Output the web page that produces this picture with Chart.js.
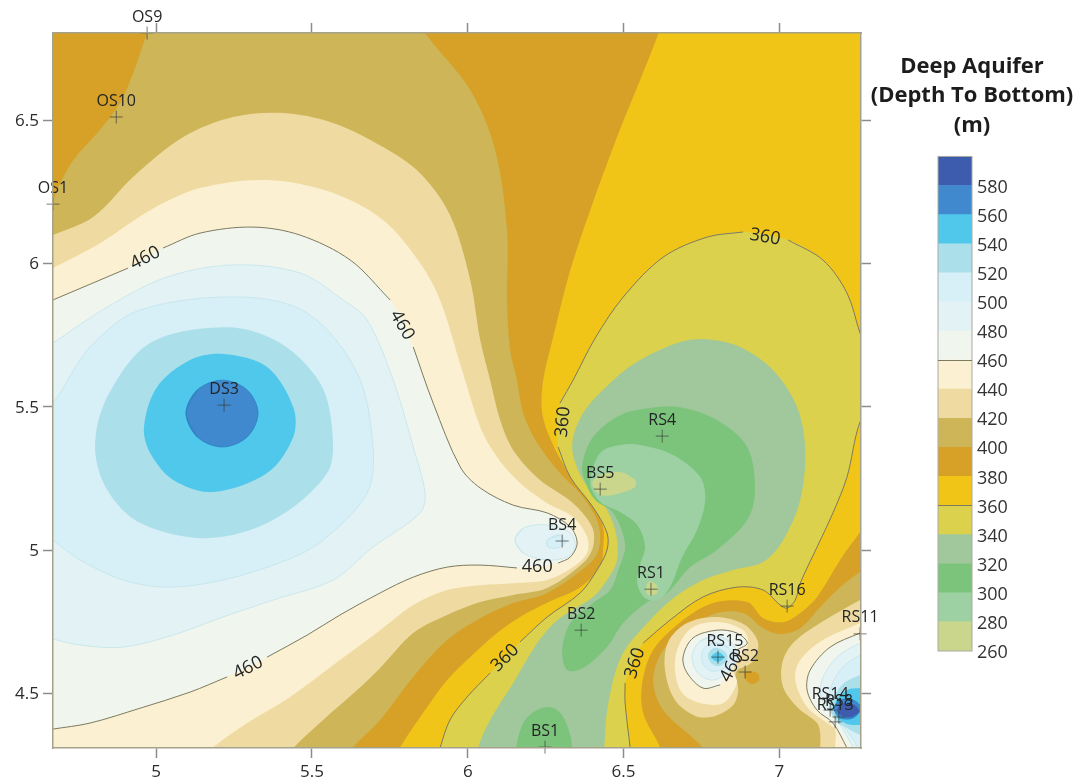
<!DOCTYPE html>
<html>
<head>
<meta charset="utf-8">
<title>Deep Aquifer</title>
<script src="https://cdn.jsdelivr.net/npm/chart.js@4"></script>
<style>
  html,body{margin:0;padding:0;background:#fff;}
  canvas{filter:blur(0.3px);}
  #mapa{position:absolute;left:0;top:0;}
  #barra{position:absolute;left:864px;top:0;}
</style>
</head>
<body>
<canvas id="mapa" width="1080" height="782"></canvas>
<canvas id="barra" width="216" height="690"></canvas>
<script>
// Colour bar levels and colours (one colour per 20 m band, from 260 up)
const levels = [260,280,300,320,340,360,380,400,420,440,460,480,500,520,540,560,580,600];
const bandColors = ["#c9d68b","#9dd1a3","#7cc47c","#a1c89c","#dbd14c","#f0c518","#d6a126","#cdb558","#efdba1","#fbf0d1","#f0f6ee","#e2f2f5","#d7eff6","#abdfea","#4fc8ec","#4189cf","#3d5cae"];

// Stations
const stationNames = ["OS9","OS10","OS1","DS3","RS4","BS5","BS4","RS1","BS2","BS1","RS15","RS2","RS16","RS11","RS14","RS8","RS13"];
const stationX = [4.971,4.872,4.669,5.218,6.624,6.425,6.303,6.588,6.364,6.248,6.803,6.890,7.025,7.259,7.163,7.191,7.179];
const stationY = [6.804,6.511,6.207,5.506,5.398,5.213,5.032,4.864,4.721,4.313,4.627,4.575,4.805,4.708,4.442,4.418,4.401];

// Contour labels on the map: text, x, y, angle
const labelTexts = ["460","460","460","460","460","360","360","360","360"];
const labelX = [4.965,5.789,6.223,5.295,6.848,6.954,6.306,6.120,6.537];
const labelY = [6.019,5.785,4.941,4.589,4.592,6.092,5.447,4.624,4.606];
const labelAngles = [-27,60,0,-27,-62,10,-85,-45,-72];

// 460 contour, split where the labels sit
const line460a = [[4.628,5.855],[4.669,5.873],[4.910,5.984]];
const line460b = [[5.022,6.054],[5.141,6.106],[5.311,6.127],[5.462,6.099],[5.623,6.012],[5.751,5.873]];
const line460c = [[5.825,5.709],[5.889,5.513],[5.976,5.290],[6.040,5.217],[6.146,5.157],[6.255,5.130],[6.329,5.081],[6.351,5.025],[6.329,4.976],[6.290,4.955]];
const line460d = [[6.158,4.938],[6.040,4.948],[5.934,4.941],[5.825,4.906],[5.719,4.851],[5.590,4.774],[5.485,4.704],[5.356,4.627]];
const line460e = [[5.228,4.558],[5.109,4.505],[4.949,4.449],[4.788,4.397],[4.669,4.376],[4.628,4.369]];
const line460rs15 = [[6.810,4.530],[6.755,4.519],[6.704,4.572],[6.691,4.627],[6.723,4.694],[6.800,4.721],[6.864,4.711],[6.897,4.676],[6.864,4.652]];
const line460br = [[7.307,4.732],[7.259,4.711],[7.163,4.662],[7.099,4.582],[7.089,4.512],[7.121,4.442],[7.172,4.397],[7.217,4.310],[7.243,4.251]];

// 360 contour, split where the labels sit
const line360a = [[5.895,4.251],[5.911,4.310],[5.943,4.408],[5.998,4.488],[6.072,4.572]];
const line360b = [[6.168,4.680],[6.255,4.767],[6.361,4.851],[6.415,4.931],[6.447,5.001],[6.447,5.060],[6.402,5.150],[6.329,5.255],[6.290,5.360]];
const line360c = [[6.296,5.513],[6.338,5.593],[6.409,5.740],[6.499,5.883],[6.627,6.022],[6.768,6.092],[6.884,6.110]];
const line360d = [[7.028,6.082],[7.140,6.012],[7.217,5.897],[7.259,5.757],[7.298,5.646]];
const line360e = [[7.323,5.559],[7.259,5.447],[7.217,5.255],[7.172,5.130],[7.121,5.011],[7.067,4.885],[7.051,4.826],[7.025,4.798],[7.002,4.809],[6.948,4.861],[6.864,4.871],[6.755,4.837],[6.649,4.756],[6.563,4.676]];
const line360f = [[6.505,4.537],[6.505,4.467],[6.521,4.313],[6.527,4.251]];

// Band edges, upper left part of the map
const orangeLeft = [[6.624,6.849],[6.611,6.800],[6.553,6.640],[6.479,6.441],[6.393,6.186],[6.329,5.977],[6.274,5.743],[6.242,5.593],[6.239,5.478],[6.271,5.374],[6.319,5.280],[6.393,5.175],[6.434,5.081],[6.434,5.001],[6.425,4.941],[6.361,4.871],[6.274,4.826],[6.178,4.774],[6.094,4.711],[6.008,4.627],[5.934,4.547],[5.879,4.467],[5.825,4.383],[5.783,4.313],[5.751,4.251]];
const oliveLeft = [[5.847,6.849],[5.863,6.804],[6.008,6.605],[6.088,6.396],[6.126,6.117],[6.126,5.873],[6.136,5.698],[6.158,5.593],[6.178,5.478],[6.223,5.374],[6.296,5.269],[6.370,5.185],[6.418,5.095],[6.422,5.011],[6.393,4.955],[6.255,4.851],[6.146,4.816],[6.040,4.763],[5.934,4.687],[5.825,4.558],[5.719,4.408],[5.629,4.310],[5.590,4.251],[4.400,4.100],[4.400,6.169],[4.628,6.169],[4.669,6.221],[4.686,6.267],[4.734,6.361],[4.811,6.455],[4.884,6.560],[4.926,6.664],[4.971,6.804],[4.987,6.849]];
const tanLeft = [[4.628,6.078],[4.669,6.099],[4.798,6.162],[4.926,6.302],[5.087,6.441],[5.247,6.511],[5.408,6.525],[5.568,6.490],[5.728,6.406],[5.847,6.315],[5.943,6.169],[6.008,5.942],[6.040,5.733],[6.072,5.593],[6.104,5.454],[6.146,5.349],[6.232,5.245],[6.338,5.164],[6.399,5.081],[6.402,5.011],[6.370,4.955],[6.255,4.868],[6.146,4.844],[6.040,4.819],[5.934,4.774],[5.825,4.711],[5.719,4.589],[5.645,4.512],[5.536,4.408],[5.440,4.310],[5.398,4.251]];
const creamLeft = [[4.628,5.960],[4.669,5.984],[4.820,6.071],[4.981,6.186],[5.141,6.263],[5.356,6.291],[5.568,6.246],[5.728,6.152],[5.847,6.002],[5.911,5.873],[5.982,5.628],[6.040,5.430],[6.094,5.325],[6.168,5.234],[6.255,5.164],[6.338,5.116],[6.383,5.046],[6.383,4.990],[6.338,4.941],[6.255,4.896],[6.146,4.885],[6.040,4.878],[5.934,4.861],[5.825,4.809],[5.719,4.721],[5.590,4.617],[5.430,4.488],[5.292,4.397],[5.180,4.310],[5.125,4.251]];

// Left mound, rings above the 460 contour
const pale480 = [[4.628,5.698],[4.669,5.723],[4.843,5.848],[5.035,5.953],[5.247,5.995],[5.462,5.967],[5.600,5.873],[5.677,5.803],[5.761,5.593],[5.825,5.360],[5.863,5.199],[5.847,5.130],[5.696,5.011],[5.568,4.896],[5.375,4.826],[5.215,4.767],[5.055,4.704],[4.894,4.662],[4.756,4.669],[4.669,4.690],[4.628,4.701]];
const pale500 = [[4.628,5.482],[4.669,5.513],[4.788,5.709],[4.949,5.838],[5.270,5.883],[5.485,5.827],[5.645,5.618],[5.696,5.360],[5.677,5.199],[5.536,5.035],[5.420,4.966],[5.215,4.896],[5.035,4.871],[4.894,4.896],[4.756,4.966],[4.669,5.035],[4.628,5.070]];
const ring520 = [[4.804,5.360],[4.843,5.534],[4.981,5.723],[5.228,5.778],[5.398,5.723],[5.526,5.583],[5.565,5.419],[5.549,5.269],[5.375,5.105],[5.164,5.042],[4.949,5.095],[4.843,5.210]];
const ring540 = [[4.961,5.430],[5.003,5.569],[5.109,5.663],[5.215,5.684],[5.356,5.639],[5.440,5.499],[5.440,5.395],[5.356,5.269],[5.183,5.203],[5.055,5.245],[4.981,5.339]];
const ring560 = [[5.096,5.478],[5.132,5.559],[5.212,5.593],[5.292,5.559],[5.327,5.478],[5.292,5.395],[5.212,5.360],[5.132,5.395]];
const bs4Outer = [[6.152,5.035],[6.178,5.077],[6.255,5.088],[6.329,5.060],[6.345,5.011],[6.319,4.976],[6.255,4.966],[6.178,4.990]];
const bs4Inner = [[6.255,5.035],[6.296,5.053],[6.312,5.025],[6.287,5.008],[6.258,5.011]];

// Low part in the middle of the map
const sage320 = [[6.033,4.251],[6.033,4.310],[6.072,4.408],[6.146,4.537],[6.223,4.676],[6.287,4.756],[6.402,4.837],[6.447,4.896],[6.479,4.966],[6.473,5.070],[6.434,5.164],[6.370,5.245],[6.335,5.360],[6.370,5.478],[6.467,5.593],[6.553,5.663],[6.682,5.726],[6.768,5.736],[6.874,5.709],[6.980,5.628],[7.057,5.499],[7.083,5.349],[7.067,5.175],[7.012,5.035],[6.948,4.959],[6.852,4.931],[6.755,4.896],[6.665,4.837],[6.585,4.756],[6.495,4.634],[6.450,4.460],[6.438,4.310],[6.434,4.251]];
const green300 = [[6.367,5.297],[6.402,5.395],[6.489,5.471],[6.585,5.496],[6.682,5.499],[6.800,5.454],[6.897,5.360],[6.922,5.210],[6.897,5.105],[6.800,5.001],[6.714,4.941],[6.640,4.851],[6.576,4.819],[6.499,4.746],[6.447,4.662],[6.370,4.589],[6.319,4.582],[6.303,4.652],[6.329,4.746],[6.402,4.816],[6.457,4.861],[6.483,4.931],[6.505,5.018],[6.467,5.130],[6.409,5.175],[6.377,5.238]];
const greenBS1 = [[6.155,4.251],[6.155,4.310],[6.178,4.397],[6.216,4.439],[6.264,4.453],[6.303,4.425],[6.329,4.355],[6.335,4.310],[6.335,4.251]];
const pale280 = [[6.393,5.234],[6.425,5.339],[6.489,5.367],[6.553,5.367],[6.659,5.332],[6.746,5.255],[6.762,5.175],[6.736,5.070],[6.688,4.976],[6.649,4.871],[6.608,4.826],[6.569,4.833],[6.544,4.885],[6.553,4.948],[6.569,5.014],[6.544,5.088],[6.489,5.133],[6.425,5.168]];
const patchBS5 = [[6.399,5.234],[6.425,5.262],[6.489,5.273],[6.537,5.245],[6.537,5.220],[6.489,5.199],[6.425,5.192]];
const patchRS1 = [[6.572,4.869],[6.585,4.892],[6.608,4.875],[6.605,4.847],[6.579,4.844]];

// Lower right, outer bands
const orangeRight = [[6.633,4.251],[6.617,4.313],[6.563,4.432],[6.560,4.537],[6.595,4.652],[6.682,4.749],[6.787,4.816],[6.897,4.819],[6.948,4.763],[7.012,4.749],[7.067,4.781],[7.121,4.837],[7.195,4.966],[7.259,5.063],[7.307,5.140]];
const oliveRight = [[6.771,4.251],[6.755,4.310],[6.627,4.442],[6.595,4.547],[6.627,4.652],[6.704,4.728],[6.800,4.781],[6.884,4.781],[6.948,4.728],[7.002,4.708],[7.067,4.728],[7.131,4.802],[7.195,4.871],[7.259,4.924],[7.307,4.948]];

// RS15 mound
const tanRS15 = [[6.800,4.767],[6.890,4.739],[6.932,4.676],[6.913,4.610],[6.861,4.575],[6.868,4.512],[6.852,4.460],[6.794,4.422],[6.730,4.422],[6.665,4.477],[6.633,4.582],[6.643,4.680],[6.704,4.746]];
const creamRS15 = [[6.810,4.749],[6.884,4.721],[6.900,4.676],[6.874,4.627],[6.852,4.582],[6.864,4.537],[6.820,4.467],[6.746,4.467],[6.688,4.502],[6.665,4.582],[6.675,4.662],[6.723,4.732]];
const ring480RS15 = [[6.797,4.701],[6.848,4.676],[6.864,4.627],[6.836,4.575],[6.784,4.547],[6.736,4.575],[6.720,4.634],[6.746,4.683]];
const ring500RS15 = [[6.800,4.676],[6.838,4.659],[6.845,4.624],[6.823,4.589],[6.784,4.578],[6.755,4.603],[6.752,4.645],[6.771,4.669]];
const ring520RS15 = [[6.803,4.659],[6.829,4.641],[6.832,4.617],[6.807,4.596],[6.781,4.606],[6.771,4.634],[6.784,4.655]];
const ring540RS15 = [[6.803,4.645],[6.823,4.627],[6.803,4.610],[6.781,4.627]];
const patchRS2 = [[6.890,4.575],[6.929,4.572],[6.935,4.547],[6.913,4.533],[6.893,4.547]];

// Lower right corner mound
const tanBR = [[7.307,4.854],[7.259,4.826],[7.131,4.746],[7.044,4.676],[7.009,4.606],[7.012,4.523],[7.057,4.453],[7.121,4.397],[7.131,4.362],[7.131,4.310],[7.131,4.251]];
const creamBR = [[7.307,4.774],[7.259,4.746],[7.140,4.687],[7.067,4.617],[7.051,4.547],[7.089,4.453],[7.153,4.397],[7.179,4.373],[7.179,4.310],[7.179,4.251]];
const pale480BR = [[7.307,4.694],[7.259,4.676],[7.185,4.627],[7.137,4.547],[7.137,4.477],[7.189,4.401],[7.237,4.310],[7.253,4.251]];
const pale500BR = [[7.307,4.652],[7.259,4.634],[7.201,4.589],[7.163,4.512],[7.169,4.449],[7.201,4.394],[7.253,4.310],[7.265,4.251]];
const ring520BR = [[7.307,4.575],[7.259,4.565],[7.201,4.530],[7.163,4.453],[7.185,4.401],[7.217,4.380],[7.259,4.355],[7.307,4.338]];
const ring540BR = [[7.307,4.526],[7.259,4.519],[7.217,4.512],[7.179,4.467],[7.185,4.418],[7.217,4.394],[7.259,4.390],[7.307,4.390]];
const ring560BR = [[7.195,4.477],[7.237,4.477],[7.262,4.449],[7.237,4.415],[7.195,4.415],[7.176,4.446]];
const ring580BR = [[7.201,4.463],[7.237,4.463],[7.256,4.439],[7.233,4.418],[7.201,4.422],[7.185,4.442]];

function band(level){ return bandColors[(level-260)/20]; }
// closes a blob smoothly: repeats neighbours so the spline has tangents at the seam
function ring(p){ return [p[p.length-1], ...p, p[0], p[1]]; }

// chart.js control points are tension*(next-prev)/2, so 1/3 is a plain Catmull-Rom
const CURVE = 0.33;

// Painted in this order, each one on top of the previous
const fillLayers = [
  [[[4.4,4.1],[4.4,7.0],[7.6,7.0],[7.6,4.1]], 360, 0],
  [[...orangeLeft,[4.4,4.1],[4.4,7.0]], 380],
  [[...orangeRight,[7.6,5.14],[7.6,4.1],[6.633,4.1]], 380],
  [oliveLeft, 400],
  [[...oliveRight,[7.6,4.948],[7.6,4.1],[6.771,4.1]], 400],
  [[...tanLeft,[4.4,4.1],[4.4,6.078]], 420],
  [ring(tanRS15), 420],
  [[...tanBR,[7.6,4.1],[7.6,4.854]], 420],
  [[...creamLeft,[4.4,4.1],[4.4,5.96]], 440],
  [ring(creamRS15), 440],
  [[...creamBR,[7.6,4.1],[7.6,4.774]], 440],
  [[...line460a,...line460b,...line460c,...line460d,...line460e,[4.4,4.2],[4.4,5.855]], 460],
  [ring(line460rs15), 460],
  [[...line460br,[7.6,4.1],[7.6,4.732]], 460],
  [[...pale480,[4.4,4.701],[4.4,5.698]], 480],
  [[...pale500,[4.4,5.07],[4.4,5.482]], 500],
  [ring(ring520), 520],
  [ring(ring540), 540],
  [ring(ring560), 560],
  [ring(bs4Outer), 480],
  [ring(bs4Inner), 500],
  [ring(ring480RS15), 480],
  [ring(ring500RS15), 500],
  [ring(ring520RS15), 520],
  [ring(ring540RS15), 540],
  [ring(patchRS2), 380],
  [[...pale480BR,[7.6,4.1],[7.6,4.694]], 480],
  [[...pale500BR,[7.6,4.1],[7.6,4.652]], 500],
  [[...ring520BR,[7.6,4.338],[7.6,4.575]], 520],
  [[...ring540BR,[7.6,4.39],[7.6,4.526]], 540],
  [ring(ring560BR), 560],
  [ring(ring580BR), 580],
  [[...line360a,...line360b,...line360c,...line360d,...line360e,...line360f,[6.527,4.1],[5.895,4.1]], 340],
  [[...sage320,[6.434,4.1],[6.033,4.1]], 320],
  [ring(green300), 300],
  [[...greenBS1,[6.335,4.1],[6.155,4.1]], 300],
  [ring(pale280), 280],
  [ring(patchBS5), 260],
  [ring(patchRS1), 260]
];
const contourLines = [line460a,line460b,line460c,line460d,line460e,line460rs15,line460br,line360a,line360b,line360c,line360d,line360e,line360f];

const toXY = pts => pts.map(p=>({x:p[0],y:p[1]}));

const datasets = [];
fillLayers.forEach(l=>{
  const pale = l[1]>=480 && l[1]<=500;
  datasets.push({
    data: toXY(l[0]), region:true, showLine:true, pointRadius:0,
    tension: l[2]===0 ? 0 : CURVE,
    backgroundColor: band(l[1]),
    borderColor: l[1]===560 ? "#2b7fbe" : "#c4e3ea",
    borderWidth: (pale || l[1]===560) ? 0.8 : 0
  });
});
contourLines.forEach(c=>{
  datasets.push({ data: toXY(c), showLine:true, pointRadius:0, tension:CURVE, borderColor:"#7d7a60", borderWidth:1 });
});
datasets.push({
  data: stationX.map((x,i)=>({x, y:stationY[i]})),
  showLine:false, clip:false, pointStyle:"cross", pointRadius:6.5,
  pointBorderColor:"rgba(50,55,50,.65)", pointBorderWidth:1
});
// chart.js paints the lowest order last
datasets.forEach((d,i)=>{ d.order = datasets.length - i; });

// Fills the closed outlines, chart.js line fill can't do islands
const regionFill = {
  id:"regionFill",
  beforeDatasetDraw(chart,args){
    const ds = chart.data.datasets[args.index];
    if (!ds.region) return;
    const a = chart.chartArea, ctx = chart.ctx, line = args.meta.dataset;
    ctx.save();
    ctx.beginPath();
    ctx.rect(a.left,a.top,a.right-a.left,a.bottom-a.top);
    ctx.clip();
    line.updateControlPoints(a);
    ctx.beginPath();
    line.path(ctx);
    ctx.closePath();
    ctx.fillStyle = ds.backgroundColor;
    ctx.fill();
    ctx.restore();
  }
};

// Station names and rotated contour labels
const mapTexts = {
  id:"mapTexts",
  afterDatasetsDraw(chart){
    const {ctx, scales:{x,y}} = chart;
    ctx.save();
    ctx.fillStyle = "#222426";
    ctx.textAlign = "center";
    ctx.textBaseline = "middle";
    ctx.font = '16px "Open Sans"';
    stationNames.forEach((n,i)=>{
      const dx = n==="RS15" ? 7 : 0;
      ctx.fillText(n, x.getPixelForValue(stationX[i])+dx, y.getPixelForValue(stationY[i])-16);
    });
    ctx.font = '18px "Open Sans"';
    labelTexts.forEach((t,i)=>{
      ctx.save();
      ctx.translate(x.getPixelForValue(labelX[i]), y.getPixelForValue(labelY[i]));
      ctx.rotate(labelAngles[i]*Math.PI/180);
      ctx.fillText(t,0,0);
      ctx.restore();
    });
    ctx.restore();
  }
};

const XMIN=4.669, XMAX=7.262, YMIN=4.31, YMAX=6.804;
const axisLine = {color:"#a5a28c", width:1.5, z:1};
const tickGrid = {drawOnChartArea:false, drawTicks:true, tickLength:10, tickColor:"#8c8c8c", tickWidth:1.5, z:1};
const tickFont = {family:'"Open Sans"', size:17};
const fmt = v => String(+v.toFixed(1));

new Chart(document.getElementById("mapa"),{
  type:"scatter",
  data:{datasets},
  plugins:[regionFill,mapTexts],
  options:{
    responsive:false, animation:false, events:[],
    layout:{padding:0, autoPadding:false},
    plugins:{legend:{display:false}, tooltip:{enabled:false}},
    scales:{
      x:{type:"linear",position:"bottom",min:XMIN,max:XMAX,
         border:axisLine,grid:tickGrid,
         ticks:{stepSize:0.5,includeBounds:false,autoSkip:false,maxRotation:0,padding:4,color:"#2b2b2b",font:tickFont,callback:fmt},
         afterFit(s){ s.height=34; }},
      x2:{type:"linear",position:"top",min:XMIN,max:XMAX,
         border:axisLine,grid:tickGrid,
         ticks:{stepSize:0.5,includeBounds:false,autoSkip:false,display:false},
         afterFit(s){ s.height=33; }},
      y:{type:"linear",position:"left",min:YMIN,max:YMAX,
         border:axisLine,grid:tickGrid,
         ticks:{stepSize:0.5,includeBounds:false,autoSkip:false,padding:4,labelOffset:1,color:"#2b2b2b",font:tickFont,callback:fmt},
         afterFit(s){ s.width=53; }},
      y2:{type:"linear",position:"right",min:YMIN,max:YMAX,
         border:axisLine,grid:tickGrid,
         ticks:{stepSize:0.5,includeBounds:false,autoSkip:false,display:false},
         afterFit(s){ s.width=219; }}
    }
  }
});

// Colour bar
const barOutline = {
  id:"barOutline",
  afterDatasetsDraw(chart){
    const a = chart.chartArea, ctx = chart.ctx;
    ctx.save();
    ctx.strokeStyle = "#a9aba4";
    ctx.lineWidth = 1;
    ctx.strokeRect(a.left,a.top,a.right-a.left,a.bottom-a.top);
    ctx.restore();
  }
};

new Chart(document.getElementById("barra"),{
  type:"bar",
  data:{
    labels:[""],
    datasets: bandColors.map((c,i)=>({
      data:[[levels[i],levels[i+1]]],
      backgroundColor:c, barPercentage:1, categoryPercentage:1, grouped:false
    }))
  },
  plugins:[barOutline],
  options:{
    responsive:false, animation:false, events:[],
    layout:{padding:{bottom:39}, autoPadding:false},
    plugins:{
      legend:{display:false}, tooltip:{enabled:false},
      title:{display:true, text:["Deep Aquifer","(Depth To Bottom)","(m)"], color:"#1c1c1c",
             font:{family:'"Open Sans"',size:22,weight:"bold",lineHeight:1.34},
             padding:{top:52,bottom:16}}
    },
    scales:{
      x:{display:false},
      // empty left axis, only keeps the bar away from the title's centre line
      y0:{position:"left",min:260,max:600,
          border:{display:false},grid:{display:false},ticks:{display:false},
          afterFit(s){ s.width=74; }},
      y:{position:"right",min:260,max:600,
         border:{display:false},
         grid:{drawTicks:false,z:1,color:c=> (c.tick.value===360||c.tick.value===460) ? "#7d7a60" : "transparent"},
         ticks:{stepSize:20,includeBounds:false,padding:5,labelOffset:2,color:"#333",font:{family:'"Open Sans"',size:18},
                callback:v=> v===600 ? "" : v},
         afterFit(s){ s.width=108; }}
    }
  }
});
</script>
</body>
</html>
